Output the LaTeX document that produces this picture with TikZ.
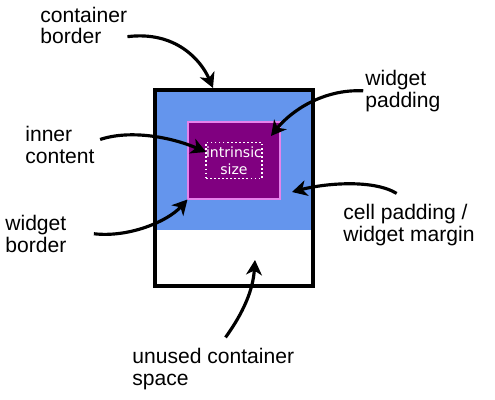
\documentclass[tikz,border=0pt]{standalone}
\usepackage{fontspec}
\setmainfont{Liberation Sans}
\newfontfamily\boxfont{DejaVu Sans}
\usepackage{xcolor}
\usetikzlibrary{arrows.meta,positioning,calc}
\definecolor{cellblue}{RGB}{100,149,237}
\definecolor{widgetfill}{RGB}{128,0,128}
\definecolor{widgetedge}{RGB}{230,130,235}

\begin{document}
\begin{tikzpicture}[
    x=0.02cm, y=-0.02cm,
    note/.style={align=left, inner sep=0pt, anchor=base west, font=\fontsize{12}{12.2}\selectfont},
    cell/.style={rectangle, fill=cellblue, inner sep=0pt, minimum width=3.16cm, minimum height=2.8cm},
    container/.style={rectangle, draw=black, line width=2.3pt, inner sep=0pt, minimum width=3.16cm, minimum height=3.92cm},
    widget/.style={rectangle, draw=widgetedge, fill=widgetfill, line width=0.6pt, inner sep=0pt, minimum width=1.84cm, minimum height=1.54cm},
    intrinsic/.style={rectangle, draw=white, dash pattern=on 0.9pt off 1.4pt, line width=0.9pt, inner sep=0pt, minimum width=1.06cm, minimum height=0.72cm, text=white, align=center, font=\boxfont\fontsize{8}{9.8}\selectfont},
    pointer/.style={-{Stealth[length=8.5pt, width=9pt, inset=2.5pt]}, line width=1.8pt, black}
]
    \useasboundingbox (0,0) rectangle (495,400);

    % Cell and container
    \node[cell] (cell) at (234,160) {};
    \node[container] (container) at (234,188) {};

    % Widget with its content
    \node[widget] (widget) at (234,160.5) {};
    \node[intrinsic] (intrinsic) at (234,160.5) {intrinsic\\size};

    % Labels (placed by the baseline of their last line)
    \node[note] (cborder) at (40,43.5) {container\\border};
    \node[note] (wpadding) at (365,107) {widget\\padding};
    \node[note] (inner) at (25,163) {inner\\content};
    \node[note] (wborder) at (5,252) {widget\\border};
    \node[note] (cellpad) at (343,241) {cell padding /\\widget margin};
    \node[note] (unused) at (132,385) {unused container\\space};

    % Arrow targets
    \coordinate (cb tip) at (213,88);
    \coordinate (wp tip) at (271,136);
    \coordinate (ic tip) at (206,152);
    \coordinate (cp tip) at (292,192);
    \coordinate (us tip) at (255,260);

    % Arrows
    \draw[pointer] ([yshift=-6.5pt]cborder.east) .. controls +(48,-6) and +(-12,-28) .. (cb tip);
    \draw[pointer] ([xshift=-1pt]wpadding.west) .. controls +(-40,-2) and +(20,-25) .. (wp tip);
    \draw[pointer] ([shift={(3pt,3pt)}]inner.east) .. controls +(30,-10) and +(-35,-15) .. (ic tip);
    \draw[pointer] ([xshift=15.5pt]wborder.east) .. controls +(35,4) and +(-20,22) .. (widget.south west);
    \draw[pointer] ([shift={(-7pt,6pt)}]cellpad.north) .. controls +(-25,-15) and +(30,-8) .. (cp tip);
    \draw[pointer] ([shift={(7pt,6pt)}]unused.north) .. controls +(18,-25) and +(-2,30) .. (us tip);

\end{tikzpicture}
\end{document}
